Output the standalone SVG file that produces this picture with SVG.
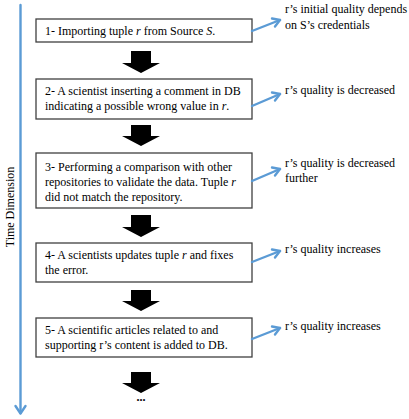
<svg xmlns="http://www.w3.org/2000/svg" width="409" height="419" viewBox="0 0 409 419">
<style>
text{font-size:12px;fill:#000}
.box{fill:#fff;stroke:#404040;stroke-width:1.3}
.blk{fill:#000}
.blue{fill:none;stroke:#5b9bd5;stroke-width:2.4;stroke-linecap:round;stroke-linejoin:round}
</style>
<rect width="409" height="419" fill="#fff"/>
<g font-family="Liberation Serif, DejaVu Serif, serif">
<g id="time-axis">
<line class="blue" x1="20.5" y1="5" x2="20.5" y2="413"/>
<polyline class="blue" points="15.5,406 20.5,413.5 25.5,406"/>
<text transform="translate(14,207) rotate(-90)" text-anchor="middle" font-size="13">Time Dimension</text>
</g>
<g id="step1">
<rect class="box" x="36" y="19" width="216" height="23"/>
<text x="45" y="35">1- Importing tuple <tspan font-style="italic">r</tspan> from Source <tspan font-style="italic">S</tspan>.</text>
</g>
<g id="step2">
<rect class="box" x="36" y="79" width="216" height="40"/>
<text x="45" y="95">2- A scientist inserting a comment in DB</text>
<text x="45" y="110">indicating a possible wrong value in <tspan font-style="italic">r</tspan>.</text>
</g>
<g id="step3">
<rect class="box" x="36" y="153" width="216" height="55"/>
<text x="45" y="171">3- Performing a comparison with other</text>
<text x="45" y="186">repositories to validate the data. Tuple <tspan font-style="italic">r</tspan></text>
<text x="45" y="201">did not match the repository.</text>
</g>
<g id="step4">
<rect class="box" x="36" y="243" width="216" height="39"/>
<text x="45" y="259">4- A scientists updates tuple <tspan font-style="italic">r</tspan> and fixes</text>
<text x="45" y="274">the error.</text>
</g>
<g id="step5">
<rect class="box" x="36" y="318" width="216" height="39"/>
<text x="45" y="334">5- A scientific articles related to and</text>
<text x="45" y="349">supporting r’s content is added to DB.</text>
</g>
<g id="ellipsis">
<text x="141" y="401" text-anchor="middle" font-weight="bold">...</text>
</g>
<g id="label1">
<text x="285" y="13">r’s initial quality depends</text>
<text x="285" y="29">on S’s credentials</text>
</g>
<g id="label2"><text x="285" y="94">r’s quality is decreased</text></g>
<g id="label3">
<text x="285" y="167">r’s quality is decreased</text>
<text x="285" y="182">further</text>
</g>
<g id="label4"><text x="285" y="253">r’s quality increases</text></g>
<g id="label5"><text x="285" y="330">r’s quality increases</text></g>
</g>
<g id="connectors">
<path class="blk" d="M131,51H151V63H160L141,73L122,63H131Z"/>
<path class="blk" d="M131,125H151V136H160L141,146L122,136H131Z"/>
<path class="blk" d="M131,215H151V227H160L141,237L122,227H131Z"/>
<path class="blk" d="M131,290H151V301H160L141,311L122,301H131Z"/>
<path class="blk" d="M131,372H151V383H160L141,393L122,383H131Z"/>
<line class="blue" x1="252" y1="31" x2="280" y2="20"/>
<polyline class="blue" points="272,18.5 280,20 275,26.5"/>
<line class="blue" x1="252" y1="106" x2="280" y2="94"/>
<polyline class="blue" points="272,92.5 280,94 275,100.5"/>
<line class="blue" x1="252" y1="181" x2="280" y2="169"/>
<polyline class="blue" points="272,167.5 280,169 275,175.5"/>
<line class="blue" x1="252" y1="262" x2="280" y2="251"/>
<polyline class="blue" points="272,249.5 280,251 275,257.5"/>
<line class="blue" x1="252" y1="339" x2="280" y2="328"/>
<polyline class="blue" points="272,326.5 280,328 275,334.5"/>
</g>
</svg>
